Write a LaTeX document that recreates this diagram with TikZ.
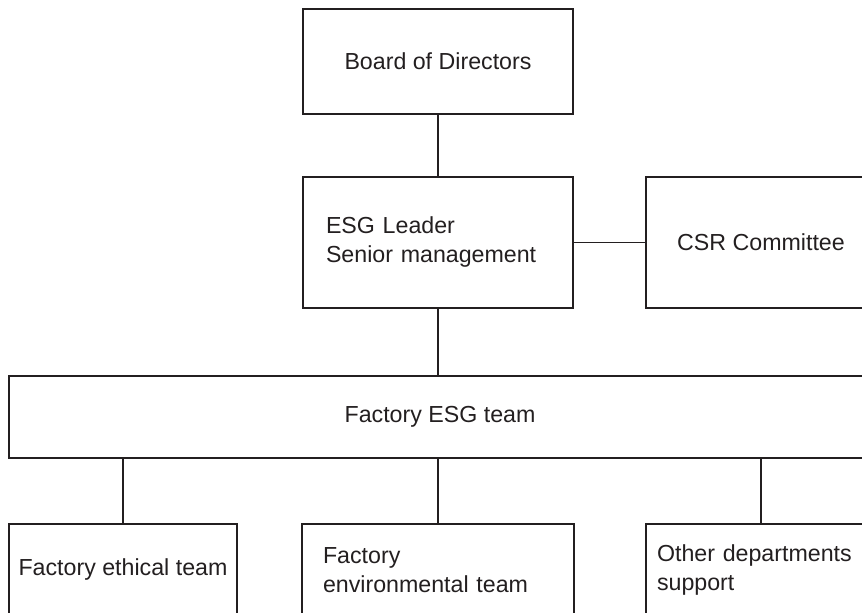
\documentclass[tikz,border=0pt]{standalone}
\usepackage{fontspec}
\setmainfont{Liberation Sans}
\definecolor{inkdark}{HTML}{231F20}
\begin{document}
\begin{tikzpicture}[x=0.5pt,y=-0.5pt,
  orgbox/.style={draw=inkdark,line width=1.4pt,text=inkdark,rectangle,inner sep=0pt,
    font=\fontsize{11.6}{14.5}\selectfont},
  orgline/.style={draw=inkdark,line width=0.8pt}]
 \useasboundingbox (0,0) rectangle (862,613);
 \clip (0,0) rectangle (862,613);
 \node[orgbox,minimum width=135pt,minimum height=52.5pt] (board) at (438,61.5) {Board of Directors};
 \node[orgbox,minimum width=135pt,minimum height=65.5pt,inner xsep=11.5pt,text width=112pt,align=left] (leader) at (438,242.5) {ESG Leader\\Senior management};
 \node[orgbox,minimum width=115pt,minimum height=65.5pt] (csr) at (761,242.5) {CSR Committee};
 \node[orgbox,minimum width=431pt,minimum height=41pt] (esgteam) at (440,417) {Factory ESG team};
 \node[orgbox,minimum width=114pt,minimum height=46pt] (ethical) at (123,570) {Factory ethical team};
 \node[orgbox,minimum width=136pt,minimum height=46pt,inner xsep=10.5pt,text width=115pt,align=left] (environ) at (438,570) {Factory\\environmental team};
 \node[orgbox,minimum width=115pt,minimum height=46pt,inner xsep=5.5pt,text width=104pt,align=left] (otherdep) at (761,570) {Other departments\\support};
 \draw[orgline] (board.south) -- (leader.north);
 \draw[orgline] (leader.east) -- (csr.west);
 \draw[orgline] (leader.south) -- (leader.south |- esgteam.north);
 \draw[orgline] (ethical.north) -- (ethical.north |- esgteam.south);
 \draw[orgline] (environ.north) -- (environ.north |- esgteam.south);
 \draw[orgline] (otherdep.north) -- (otherdep.north |- esgteam.south);
\end{tikzpicture}
\end{document}
